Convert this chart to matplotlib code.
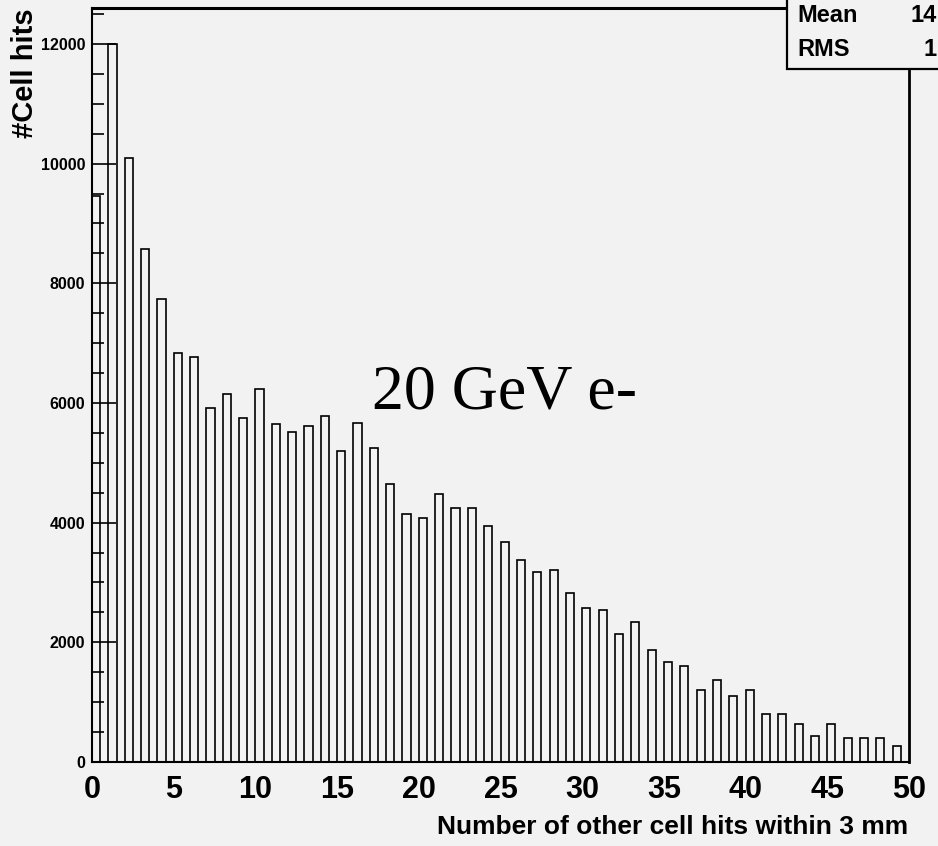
import numpy as np
import matplotlib
matplotlib.use('Agg')
import matplotlib.pyplot as plt
from matplotlib.patches import Rectangle

# histogram: 50 bins of width 1 from 0 to 50
bin_low = list(range(50))
counts = [9450, 12000, 10100, 8570, 7740, 6830, 6760, 5920, 6150, 5750,
          6230, 5650, 5520, 5620, 5790, 5190, 5660, 5250, 4650, 4150,
          4080, 4480, 4250, 4250, 3940, 3680, 3380, 3180, 3210, 2830,
          2570, 2540, 2140, 2340, 1875, 1675, 1605, 1205, 1375, 1105,
          1205, 805, 805, 630, 435, 630, 405, 405, 405, 270]
xticks = list(range(0, 51, 5))
yticks = list(range(0, 12001, 2000))
stat_names = ['Mean', 'RMS']
stat_values = ['14', '1']   # only the start of the numbers is inside the picture

plt.rcParams['font.family'] = ['Liberation Sans', 'DejaVu Sans']
plt.rcParams['font.weight'] = 'bold'
bg = '#f2f2f2'

W, H = 938, 846
fig = plt.figure(figsize=(W / 100, H / 100), dpi=100, facecolor=bg)
ax = fig.add_axes([92 / W, 1 - 762 / H, (909 - 92) / W, (762 - 8) / H])
ax.set_facecolor(bg)

ax.bar(bin_low, counts, width=0.5, align='edge', facecolor='none',
       edgecolor='black', linewidth=1.2)

ax.set_xlim(0, 50)
ax.set_ylim(0, 12600)
ax.set_xticks(xticks)
ax.set_yticks(yticks)
ax.set_yticks(np.arange(0, 12600, 500), minor=True)
ax.tick_params(axis='y', which='major', direction='in', length=17, width=1.2,
               pad=5, labelsize=11.5)
ax.tick_params(axis='y', which='minor', direction='in', length=8.5, width=1.2)
ax.tick_params(axis='x', which='both', length=0, pad=9, labelsize=22)
for s in ax.spines.values():
    s.set_linewidth(1.5)
ax.spines['top'].set_linewidth(2.2)
ax.spines['right'].set_linewidth(2.0)

fig.text(25 / W, 1 - 8 / H, '#Cell hits', rotation=90, ha='center', va='top',
         fontsize=21)
fig.text(908 / W, 1 - 827 / H, 'Number of other cell hits within 3 mm',
         ha='right', va='center', fontsize=19)
fig.text(372 / W, 1 - 408 / H, '20 GeV e-', family='Liberation Serif',
         weight='normal', fontsize=46, va='baseline', ha='left')

# stats box, cut by the top right corner
box = Rectangle((787 / W, 1 - 69 / H), 0.3, 0.3, transform=fig.transFigure,
                facecolor=bg, edgecolor='black', linewidth=1.6, zorder=5)
fig.patches.append(box)
for name, val, yc in zip(stat_names, stat_values, [15, 50]):
    fig.text(797 / W, 1 - yc / H, name, ha='left', va='center', fontsize=17, zorder=6)
    fig.text(937 / W, 1 - yc / H, val, ha='right', va='center', fontsize=17, zorder=6)

fig.savefig('out.png', dpi=100, facecolor=bg)
